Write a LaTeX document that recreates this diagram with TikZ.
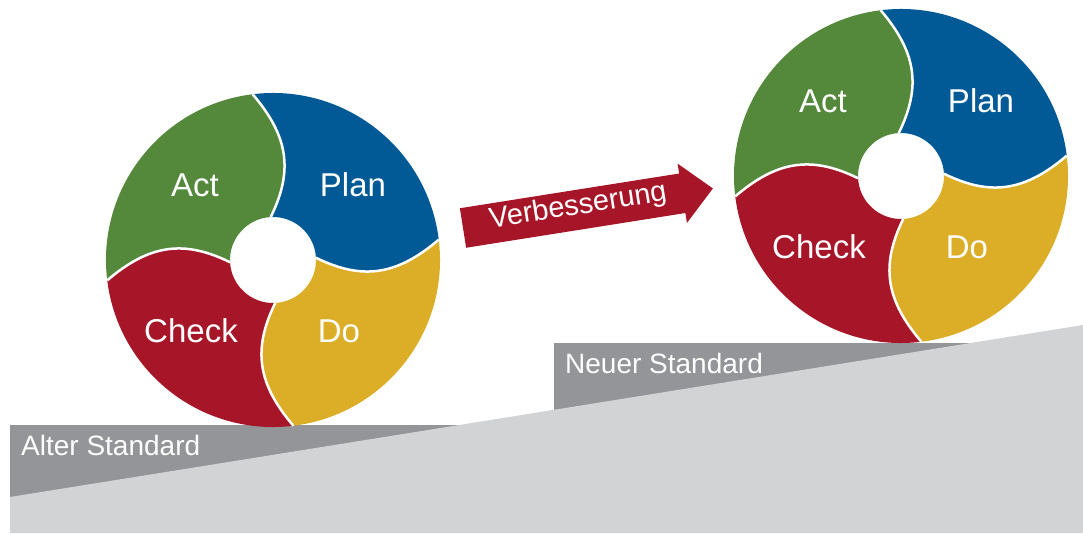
\documentclass[tikz,border=0pt]{standalone}
\usepackage{fontspec}
\setmainfont{Liberation Sans}

\definecolor{planBlue}{RGB}{1,90,150}
\definecolor{doGold}{RGB}{220,173,38}
\definecolor{checkRed}{RGB}{166,22,40}
\definecolor{actGreen}{RGB}{84,137,60}
\definecolor{stdGrey}{RGB}{147,149,152}
\definecolor{rampGrey}{RGB}{209,211,212}

\tikzset{
  wheel label/.style={text=white, inner sep=0pt, anchor=base,
    font=\fontsize{33}{36}\selectfont},
  std label/.style={text=white, inner sep=0pt, anchor=base west,
    font=\fontsize{28}{32}\selectfont},
  arrow label/.style={text=white, inner sep=0pt,
    font=\fontsize{29}{32}\selectfont},
  gap/.style={draw=white, line width=2.5pt},
}

\begin{document}
\begin{tikzpicture}[x=1pt,y=1pt]
  \newcommand{\pdcaWheel}[2]{
    \begin{scope}[shift={#2}]
      % four bent segments, each from boundary \b to boundary \b+90
      \foreach \b/\col in {0/planBlue,90/actGreen,180/checkRed,270/doGold}{
        \fill[\col] ({\b+3}:43) .. controls ({\b-13}:92) and ({\b-7}:125) .. ({\b+7}:167)
          arc[start angle=\b+7, end angle=\b+97, radius=167]
          .. controls ({\b+83}:125) and ({\b+77}:92) .. ({\b+93}:43)
          arc[start angle=\b+93, end angle=\b+3, radius=43] -- cycle;
      }
      \foreach \b in {0,90,180,270}
        \draw[gap] ({\b+3}:43) .. controls ({\b-13}:92) and ({\b-7}:125) .. ({\b+7}:167);
      \node[wheel label] (#1act) at (-78,63) {Act};
      \node[wheel label] (#1plan) at (80,63) {Plan};
      \node[wheel label] (#1check) at (-82,-83) {Check};
      \node[wheel label] (#1do) at (66,-83) {Do};
    \end{scope}
  }

  \useasboundingbox (0,0) rectangle (1083,533);

  % standards and the slope
  \fill[stdGrey] (10,30) rectangle (459,108);
  \fill[stdGrey] (554,110) rectangle (971,190);
  \fill[rampGrey] (10,0) -- (10,36) -- (1083,208) -- (1083,0) -- cycle;
  \node[std label] (alt) at (21,78) {Alter Standard};
  \node[std label] (neu) at (565,160) {Neuer Standard};

  \pdcaWheel{old}{(273,273)}
  \pdcaWheel{new}{(901,357)}

  % improvement arrow
  \begin{scope}[shift={(463,305)}, rotate=9]
    \fill[checkRed] (0,-20) -- (222,-20) -- (222,-30) -- (253,0)
      -- (222,30) -- (222,20) -- (0,20) -- cycle;
    \node[arrow label, rotate=9] (verb) at (117,3) {Verbesserung};
  \end{scope}
\end{tikzpicture}
\end{document}
